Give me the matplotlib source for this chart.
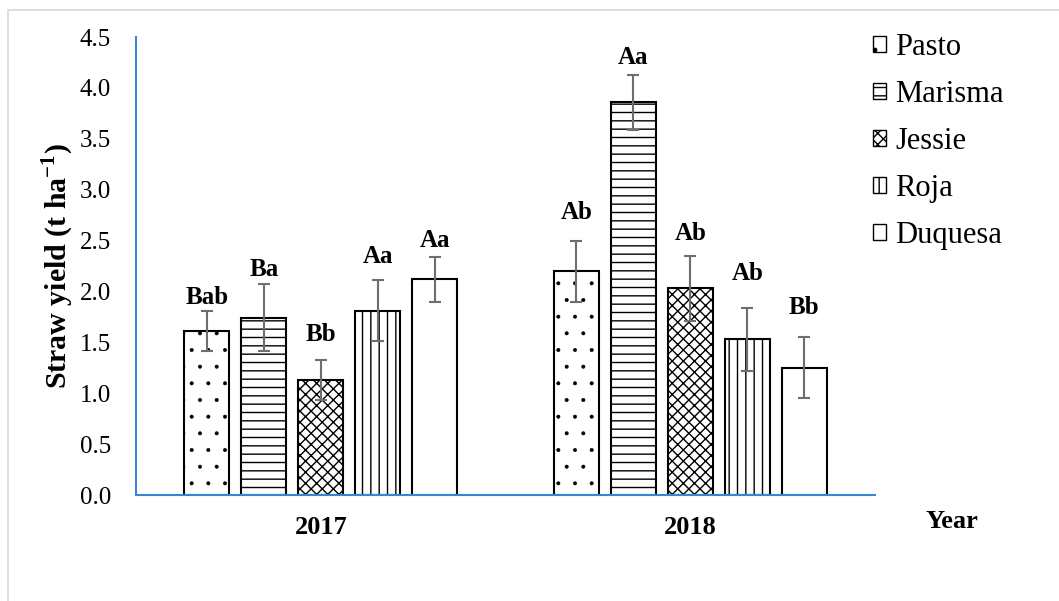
import matplotlib
matplotlib.use("Agg")
import matplotlib.pyplot as plt
from matplotlib.patches import Patch, Rectangle
import numpy as np

years = ["2017", "2018"]
cultivars = ["Pasto", "Marisma", "Jessie", "Roja", "Duquesa"]
means = {
    "Pasto":   [1.61, 2.20],
    "Marisma": [1.74, 3.86],
    "Jessie":  [1.13, 2.03],
    "Roja":    [1.81, 1.53],
    "Duquesa": [2.12, 1.25],
}
errors = {
    "Pasto":   [0.20, 0.30],
    "Marisma": [0.33, 0.27],
    "Jessie":  [0.20, 0.32],
    "Roja":    [0.30, 0.31],
    "Duquesa": [0.22, 0.30],
}
letters = {
    "Pasto":   ["Bab", "Ab"],
    "Marisma": ["Ba", "Aa"],
    "Jessie":  ["Bb", "Ab"],
    "Roja":    ["Aa", "Ab"],
    "Duquesa": ["Aa", "Bb"],
}
# vertical placement of the significance letters (data units)
letter_y = {
    "Pasto":   [1.94, 2.78],
    "Marisma": [2.22, 4.30],
    "Jessie":  [1.58, 2.57],
    "Roja":    [2.34, 2.18],
    "Duquesa": [2.50, 1.84],
}
hatches = {"Pasto": ".", "Marisma": "--", "Jessie": "xxx", "Roja": "||", "Duquesa": ""}

plt.rcParams["font.family"] = ["Liberation Serif", "DejaVu Serif"]
plt.rcParams["hatch.linewidth"] = 1.0
plt.rcParams["hatch.color"] = "black"

fig = plt.figure(figsize=(10.59, 6.01), dpi=100)
ax = fig.add_axes([136 / 1059, 106 / 601, (875 - 136) / 1059, (495 - 37) / 601])

# light gray outer border
fig.add_artist(Rectangle((8 / 1059, -0.05), 1.2, 1 - 10 / 601 + 0.05,
                         transform=fig.transFigure, fill=False,
                         edgecolor="#d9d9d9", linewidth=1.2))

step = 57 / 369.5
width = 45 / 369.5
x = np.arange(len(years))
for j, c in enumerate(cultivars):
    xs = x + (j - 2) * step
    bars = ax.bar(xs, means[c], width, facecolor="white", edgecolor="black",
                  linewidth=1.5, hatch=hatches[c], zorder=2)
    if c == "Pasto":
        for b in bars:
            if hasattr(b, "set_hatch_linewidth"):
                b.set_hatch_linewidth(0.4)
    ax.errorbar(xs, means[c], yerr=errors[c], fmt="none", ecolor="#6e6e6e",
                elinewidth=1.5, capsize=4, capthick=1.5, zorder=3)
    for k in range(len(years)):
        ax.text(xs[k], letter_y[c][k], letters[c][k], ha="center", va="center",
                fontsize=18, fontweight="bold")

ax.set_xlim(-0.5, 1.5)
ax.set_ylim(0, 4.5)
ax.set_yticks(np.arange(0, 4.51, 0.5))
ax.set_yticklabels([f"{v:.1f}" for v in np.arange(0, 4.51, 0.5)], fontsize=18)
ax.set_xticks(x)
ax.set_xticklabels(years, fontsize=19, fontweight="bold")
ax.tick_params(axis="both", length=0)
ax.tick_params(axis="x", pad=15)
ax.tick_params(axis="y", pad=18)
for s in ["top", "right"]:
    ax.spines[s].set_visible(False)
for s in ["left", "bottom"]:
    ax.spines[s].set_color("#3a86d4")
    ax.spines[s].set_linewidth(1.5)

ax.set_ylabel("Straw yield (t ha$^{\\mathregular{-1}}$)", fontsize=21.5, fontweight="bold")
ax.yaxis.set_label_coords(-0.081, 0.5)
fig.text(952 / 1059, 1 - 522 / 601, "Year", ha="center", va="center",
         fontsize=19, fontweight="bold")

handles = [Patch(facecolor="white", edgecolor="black", hatch=hatches[c], linewidth=1.0)
           for c in cultivars]
ax.legend(handles, cultivars, loc="upper left", bbox_to_anchor=(873 / 1059, 1 - 33 / 601),
          bbox_transform=fig.transFigure, frameon=False, fontsize=22,
          handlelength=0.42, handleheight=0.42, handletextpad=0.3, labelspacing=0.585,
          borderaxespad=0, borderpad=0)

fig.savefig("out.png", dpi=100)
